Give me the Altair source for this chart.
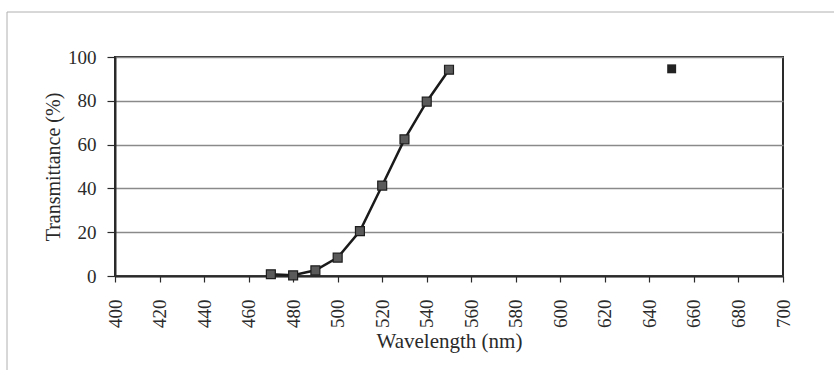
import altair as alt
import pandas as pd

# Data
wavelength = [470, 480, 490, 500, 510, 520, 530, 540, 550]
transmittance = [0.8, 0.3, 2.6, 8.4, 20.5, 41.3, 62.4, 79.6, 94.2]
extra_wavelength = [650]
extra_transmittance = [94.6]
x_ticks = list(range(400, 701, 20))
y_ticks = [0, 20, 40, 60, 80, 100]

df = pd.DataFrame({"wl": wavelength, "tr": transmittance})
df2 = pd.DataFrame({"wl": extra_wavelength, "tr": extra_transmittance})

FONT = "Liberation Serif"

x_enc = alt.X(
    "wl:Q",
    scale=alt.Scale(domain=[400, 700], nice=False, zero=False),
    axis=alt.Axis(
        values=x_ticks,
        title="Wavelength (nm)",
        labelAngle=270,
        labelFontSize=19,
        labelPadding=17,
        tickSize=6,
        titleFontSize=21,
        titlePadding=3,
        grid=False,
        format="d",
    ),
)
y_enc = alt.Y(
    "tr:Q",
    scale=alt.Scale(domain=[0, 100], nice=False),
    axis=alt.Axis(
        values=y_ticks,
        title="Transmittance (%)",
        labelFontSize=19,
        labelPadding=11,
        tickSize=8,
        titleFontSize=20,
        titlePadding=4,
        grid=True,
        gridColor="#8a8a8a",
        gridWidth=1.3,
    ),
)

line = alt.Chart(df).mark_line(color="#1a1a1a", strokeWidth=2.5).encode(x=x_enc, y=y_enc)
pts = alt.Chart(df).mark_point(
    shape="square", filled=True, size=80, color="#5a5a5a", stroke="#1e1e1e", strokeWidth=1.2, opacity=1
).encode(x="wl:Q", y="tr:Q")
pts2 = alt.Chart(df2).mark_point(
    shape="square", filled=True, size=80, color="#222222", opacity=1
).encode(x="wl:Q", y="tr:Q")

# faint outer frame of the scanned figure
frame_top = alt.Chart(df2).mark_rule(color="#b0b0b0", strokeWidth=1).encode(
    x=alt.value(-108), x2=alt.value(719), y=alt.value(-45)
)
frame_left = alt.Chart(df2).mark_rule(color="#b0b0b0", strokeWidth=1).encode(
    x=alt.value(-108), y=alt.value(-45), y2=alt.value(313)
)

chart = alt.layer(frame_top, frame_left, line, pts, pts2).properties(
    width=668,
    height=219,
    autosize=alt.AutoSizeParams(type="none"),
    padding={"left": 115, "top": 57, "right": 51, "bottom": 101},
    background="white",
).configure_view(
    stroke="#2a2a2a", strokeWidth=2
).configure_axis(
    labelFont=FONT,
    titleFont=FONT,
    labelColor="#2a2a2a",
    titleColor="#2a2a2a",
    titleFontWeight="normal",
    domainColor="#2a2a2a",
    domainWidth=2,
    tickColor="#2a2a2a",
    tickWidth=1.2,
)

chart.save("out.html", embed_options={"renderer": "svg", "actions": False})
